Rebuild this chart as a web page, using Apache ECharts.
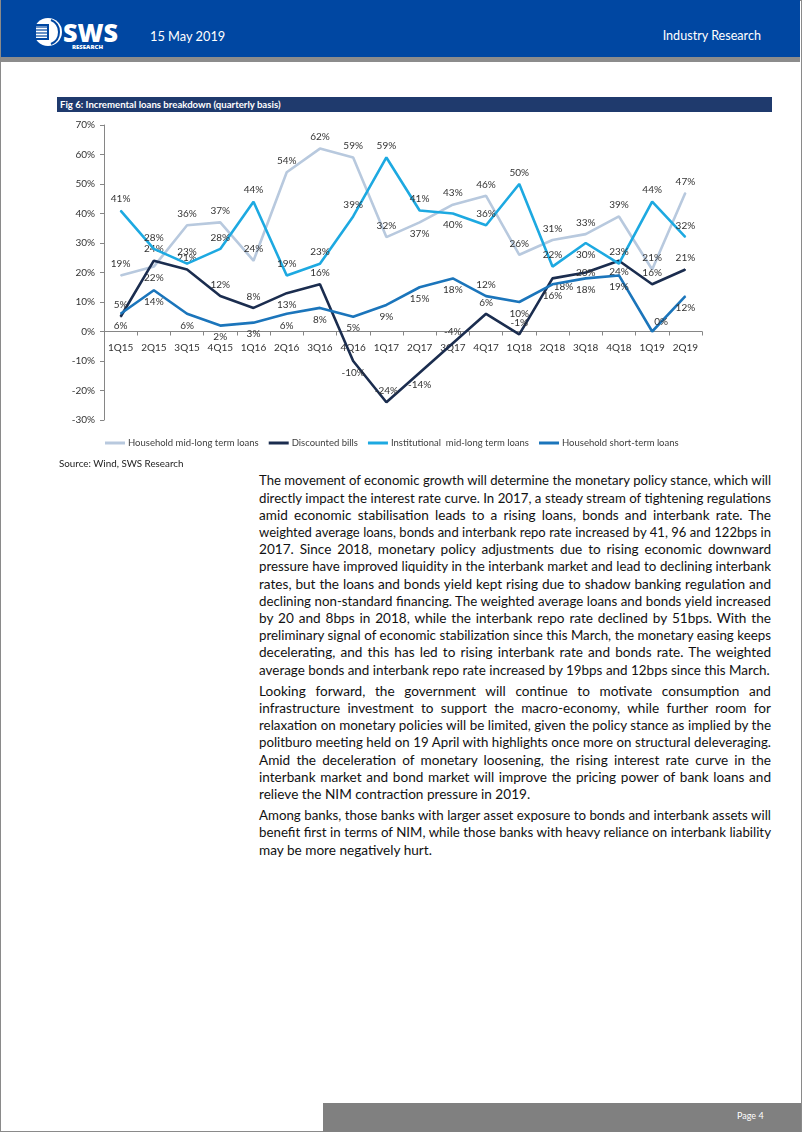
<!DOCTYPE html>
<html>
<head>
<meta charset="utf-8">
<script src="https://cdn.jsdelivr.net/npm/echarts@6/dist/echarts.min.js"></script>
<style>
  html, body { margin:0; padding:0; background:#fff; }
  #page { position:relative; width:802px; height:1132px; overflow:hidden; background:#fff; font-family: Lato, "Open Sans", sans-serif; }
  .abs { position:absolute; }
  .ln { position:absolute; left:259px; width:512px; height:17.2px; line-height:17.2px; font-size:13.6px; color:#111; white-space:nowrap; }
  .ln.j { text-align:justify; text-align-last:justify; }
</style>
</head>
<body>
<div id="page">
  <div class="abs" style="left:0;top:0;width:800px;height:1130px;border:1px solid #8a8a8a;"></div>
  <div class="abs" style="left:1px;top:0;width:799px;height:57px;background:#0047A2;"></div>
  <div class="abs" style="left:1px;top:57px;width:799px;height:5px;background:#8c8c8c;"></div>
  <svg class="abs" style="left:30px;top:14px" width="95" height="38" viewBox="0 0 95 38">
    <circle cx="18" cy="18" r="14" fill="#fff"/>
    <rect x="4" y="10" width="15" height="16" fill="#0047A2"/>
    <rect x="6" y="12" width="11" height="12" fill="#fff"/>
    <g stroke="#0047A2" stroke-width="1.2">
      <line x1="3" y1="13" x2="17" y2="13"/><line x1="3" y1="16" x2="17" y2="16"/>
      <line x1="3" y1="19" x2="17" y2="19"/><line x1="3" y1="22" x2="17" y2="22"/>
      <line x1="3" y1="25" x2="17" y2="25"/>
    </g>
    <path d="M21 6 A13 13 0 0 1 21 30" stroke="#0047A2" stroke-width="2" fill="none"/>
    <text x="33" y="28" fill="#fff" font-family="'Open Sans', Lato, sans-serif" font-weight="800" font-size="24" textLength="55" lengthAdjust="spacingAndGlyphs">SWS</text>
    <text x="42" y="34.5" fill="#fff" font-family="'Open Sans', sans-serif" font-weight="800" font-size="5.4" textLength="31" lengthAdjust="spacingAndGlyphs">RESEARCH</text>
  </svg>
  <div class="abs" style="left:150px;top:28px;font-size:12.8px;color:#fff;">15 May 2019</div>
  <div class="abs" style="right:41px;top:28px;font-size:12.6px;color:#fff;">Industry Research</div>

  <div class="abs" style="left:57px;top:97px;width:715px;height:15px;background:#1F3A6D;"></div>
  <div class="abs" style="left:60px;top:98px;font-size:9.6px;line-height:13px;font-weight:bold;color:#fff;">Fig 6: Incremental loans breakdown (quarterly basis)</div>

  <div id="chart" class="abs" style="left:0;top:113px;width:802px;height:345px;"></div>

  <div class="abs" style="left:59px;top:457px;font-size:9.8px;color:#222;">Source: Wind, SWS Research</div>

  <div class="abs" style="left:323px;top:1103px;width:478px;height:29px;background:#808080;"></div>
  <div class="abs" style="left:737px;top:1110px;font-size:9px;color:#fff;">Page 4</div>
</div>
<script>
// ---------- data ----------
const categories = ['1Q15','2Q15','3Q15','4Q15','1Q16','2Q16','3Q16','4Q16','1Q17','2Q17','3Q17','4Q17','1Q18','2Q18','3Q18','4Q18','1Q19','2Q19'];
const seriesNames = ['Household mid-long term loans','Discounted bills','Institutional  mid-long term loans','Household short-term loans'];
const householdMidLong = [19,22,36,37,24,54,62,59,32,37,43,46,26,31,33,39,21,47];
const discountedBills  = [5,24,21,12,8,13,16,-10,-24,-14,-4,6,-1,18,20,24,16,21];
const institutionalMidLong = [41,28,23,28,44,19,23,39,59,41,40,36,50,22,30,23,44,32];
const householdShort   = [6,14,6,2,3,6,8,5,9,15,18,12,10,16,18,19,0,12];
const yTicks = [-30,-20,-10,0,10,20,30,40,50,60,70];

// label placement (style, separate from values)
const posHML  = ['t','b','t','t','t','t','t','t','t','b','t','t','t','t','t','t','t','t'];
const posDisc = ['t','t','t','t','t','b','t','b','t','b','t','t','t','rb','c','b','t','t'];
const posInst = ['t','t','t','t','t','t','t','t','t','t','b','t','t','t','b','t','t','t'];
const posShort= ['b','b','b','b','b','b','b','b','b','b','b','t','b','b','b','b','tr','b'];

const P1 = [
"The movement of economic growth will determine the monetary policy stance, which will",
"directly impact the interest rate curve. In 2017, a steady stream of tightening regulations",
"amid economic stabilisation leads to a rising loans, bonds and interbank rate. The",
"weighted average loans, bonds and interbank repo rate increased by 41, 96 and 122bps in",
"2017. Since 2018, monetary policy adjustments due to rising economic downward",
"pressure have improved liquidity in the interbank market and lead to declining interbank",
"rates, but the loans and bonds yield kept rising due to shadow banking regulation and",
"declining non-standard financing. The weighted average loans and bonds yield increased",
"by 20 and 8bps in 2018, while the interbank repo rate declined by 51bps. With the",
"preliminary signal of economic stabilization since this March, the monetary easing keeps",
"decelerating, and this has led to rising interbank rate and bonds rate. The weighted",
"average bonds and interbank repo rate increased by 19bps and 12bps since this March."];
const P2 = [
"Looking forward, the government will continue to motivate consumption and",
"infrastructure investment to support the macro-economy, while further room for",
"relaxation on monetary policies will be limited, given the policy stance as implied by the",
"politburo meeting held on 19 April with highlights once more on structural deleveraging.",
"Amid the deceleration of monetary loosening, the rising interest rate curve in the",
"interbank market and bond market will improve the pricing power of bank loans and",
"relieve the NIM contraction pressure in 2019."];
const P3 = [
"Among banks, those banks with larger asset exposure to bonds and interbank assets will",
"benefit first in terms of NIM, while those banks with heavy reliance on interbank liability",
"may be more negatively hurt."];

// ---------- body text ----------
(function(){
  const page = document.getElementById('page');
  const LH = 17.2, GAP = 4;
  let top = 481 - LH/2;
  [P1,P2,P3].forEach(function(par){
    par.forEach(function(t,i){
      const d = document.createElement('div');
      d.className = 'ln';
      d.style.top = top + 'px';
      const s = document.createElement('span');
      s.textContent = t;
      d.appendChild(s);
      page.appendChild(d);
      const w = s.getBoundingClientRect().width;
      if (w > 511) { d.style.fontSize = (13.6 * 511 / w) + 'px'; }
      if (i < par.length - 1) d.classList.add('j');
      top += LH;
    });
    top += GAP;
  });
})();

// ---------- chart ----------
function buildData(vals, pos){
  return vals.map(function(v,i){
    const p = pos[i];
    const lab = {};
    if (p === 't') { lab.position = 'top'; }
    else if (p === 'b') { lab.position = 'bottom'; }
    else if (p === 'rb') { lab.position = 'bottom'; lab.offset = [11,-3]; }
    else if (p === 'tr') { lab.position = 'top'; lab.offset = [9,2]; }
    else if (p === 'c') { lab.position = 'inside'; }
    return { value: v, label: lab };
  });
}
const colors = ['#B8C9DE','#1B2D4F','#1DA9E1','#1B75BB'];
const chart = echarts.init(document.getElementById('chart'), null, {renderer:'canvas'});
const GRID_TOP = 12, GRID_H = 295, YMIN = -30, YMAX = 70;
const zeroOffset = -GRID_H * (0 - YMIN) / (YMAX - YMIN);
const lineSeries = [
  [householdMidLong, posHML],
  [discountedBills, posDisc],
  [institutionalMidLong, posInst],
  [householdShort, posShort]
].map(function(pair, k){
  return {
    name: seriesNames[k], type: 'line',
    data: buildData(pair[0], pair[1]),
    symbol: 'circle', symbolSize: 1, showSymbol: true,
    lineStyle: { width: 2.6, color: colors[k] },
    itemStyle: { color: colors[k] },
    label: { show: true, formatter: '{c}%', fontSize: 10, color: '#333', distance: 6, fontFamily: 'Lato' },
    emphasis: { disabled: true },
    z: 2 + k
  };
});
chart.setOption({
  animation: false,
  textStyle: { fontFamily: 'Lato' },
  color: colors,
  grid: { left: 104, top: GRID_TOP, width: 598, height: GRID_H, containLabel: false },
  legend: {
    left: 100, top: 320, itemWidth: 20, itemHeight: 3, itemGap: 10,
    icon: 'rect',
    textStyle: { fontSize: 9.5, color: '#404040', padding: [0,0,0,-2] },
    data: seriesNames
  },
  xAxis: {
    type: 'category', data: categories, boundaryGap: true,
    offset: zeroOffset,
    axisLine: { onZero: false, lineStyle: { color: '#868686', width: 1 } },
    axisTick: { show: true, length: 4, inside: false, interval: 0, lineStyle: { color: '#868686' } },
    axisLabel: { interval: 0, fontSize: 10, color: '#333', margin: 11 }
  },
  yAxis: {
    type: 'value', min: YMIN, max: YMAX, interval: 10,
    axisLine: { show: true, lineStyle: { color: '#868686' } },
    axisTick: { show: true, length: 4, lineStyle: { color: '#868686' } },
    splitLine: { show: false },
    axisLabel: { fontSize: 10, color: '#333', margin: 9,
      formatter: function(v){ return yTicks.indexOf(v) >= 0 ? v + '%' : ''; } }
  },
  series: lineSeries
});
</script>
</body>
</html>
